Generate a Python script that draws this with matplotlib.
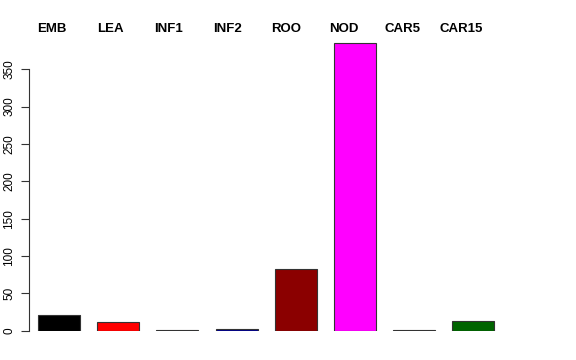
import matplotlib.pyplot as plt
import numpy as np

plt.rcParams["font.family"] = ["Liberation Sans", "DejaVu Sans"]

categories = ["EMB", "LEA", "INF1", "INF2", "ROO", "NOD", "CAR5", "CAR15"]
values = [21, 12, 1.2, 2.5, 83, 385, 1, 13.5]
colors = ["#000000", "#FF0000", "#1F4F1F", "#00008B", "#8B0000", "#FF00FF", "#000000", "#006400"]
yticks = [0, 50, 100, 150, 200, 250, 300, 350]

W, H = 576, 360
fig = plt.figure(figsize=(W / 100, H / 100), dpi=100)

# axes placed in pixel terms to follow the R barplot layout
left_px, right_px = 28.5, 505
bottom_px = H - 330.7
top_px = H - (330.7 - 400 * 0.747)
ax = fig.add_axes([left_px / W, bottom_px / H, (right_px - left_px) / W, (top_px - bottom_px) / H])

x = np.arange(len(categories))
ax.bar(x, values, width=0.71, color=colors, edgecolor="#333333", linewidth=0.8)

ax.set_xlim((left_px - 59) / 59.2, (right_px - 59) / 59.2)
ax.set_ylim(0, 400)

ax.set_yticks(yticks)
ax.set_yticklabels([str(v) for v in yticks], rotation=90, va="center", fontsize=8.5)
ax.tick_params(axis="y", length=5.5, width=0.8, pad=4, colors="#333333", labelcolor="black")
ax.set_xticks([])
for s in ["top", "right", "bottom"]:
    ax.spines[s].set_visible(False)
ax.spines["left"].set_bounds(0, 350)
ax.spines["left"].set_linewidth(0.8)
ax.spines["left"].set_color("#333333")

for i, name in enumerate(categories):
    fig.text((51.7 + 58.5 * i) / W, 1 - 28.5 / H, name, ha="center", va="center",
             fontsize=9.5, fontweight="bold")

fig.savefig("out.png", dpi=100)
